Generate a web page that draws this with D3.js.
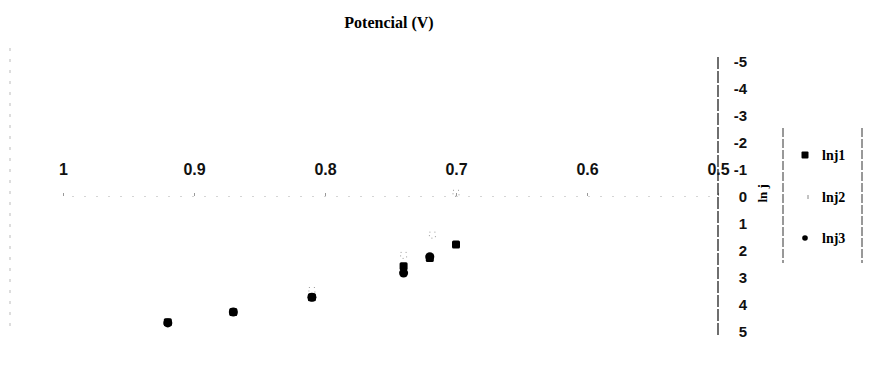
<!DOCTYPE html>
<html>
<head>
<meta charset="utf-8">
<script src="https://cdn.jsdelivr.net/npm/d3@7"></script>
<style>
  body { margin: 0; background: #fff; }
  svg { display: block; }
</style>
</head>
<body>
<div id="plot"></div>
<script>
// values
const potencial = [0.92, 0.87, 0.81, 0.74, 0.72, 0.70];
const lnj1 = [4.68, 4.3, 3.75, 2.6, 2.3, 1.8];
const potencial2 = [0.81, 0.74, 0.718, 0.70];
const lnj2 = [3.5, 2.2, 1.45, -0.1];
const potencial3 = [0.92, 0.87, 0.81, 0.74, 0.72];
const lnj3 = [4.7, 4.3, 3.75, 2.85, 2.25];
const xTicks = [1, 0.9, 0.8, 0.7, 0.6, 0.5];
const yTicks = [-5, -4, -3, -2, -1, 0, 1, 2, 3, 4, 5];
const seriesNames = ["lnj1", "lnj2", "lnj3"];

const width = 879, height = 367;

const svg = d3.select("#plot")
  .append("svg")
  .attr("width", width)
  .attr("height", height);

const x = d3.scaleLinear().domain([1, 0.5]).range([63, 718]);
const y = d3.scaleLinear().domain([-5, 5]).range([61, 331]);

// faint outer border on the left (scan remnant)
svg.append("line")
  .attr("x1", 10).attr("x2", 10)
  .attr("y1", 48).attr("y2", 332)
  .attr("stroke", "#bbb")
  .attr("stroke-dasharray", "3,8");

// title
svg.append("text")
  .attr("x", 389).attr("y", 28)
  .attr("text-anchor", "middle")
  .style("font-family", "Liberation Serif, serif")
  .style("font-weight", "bold")
  .style("font-size", "16px")
  .text("Potencial (V)");

// x axis at y = 0, labels above
const xAxis = svg.append("g")
  .attr("transform", `translate(0,${y(0)})`)
  .call(d3.axisTop(x).tickValues(xTicks).tickFormat(d => String(d)).tickSize(3).tickPadding(18));
xAxis.select(".domain").attr("stroke", "#d5d5d5").attr("stroke-dasharray", "2,10");
xAxis.selectAll(".tick line").attr("stroke", "#999");
xAxis.selectAll("text")
  .style("font-family", "Liberation Sans, Arial, sans-serif")
  .style("font-weight", "bold")
  .style("font-size", "16px")
  .attr("fill", "#111");

// y axis at x = 0.5
const yAxis = svg.append("g")
  .attr("transform", `translate(${x(0.5)},0)`)
  .call(d3.axisRight(y).tickValues(yTicks).tickFormat(d => String(d)).tickSize(0).tickPadding(29));
yAxis.select(".domain")
  .attr("d", `M0,${y(-5) - 4}V${y(5) + 4}`)
  .attr("stroke", "#222")
  .attr("stroke-width", 1.3)
  .attr("stroke-dasharray", "12,2");
yAxis.selectAll("text")
  .attr("text-anchor", "end")
  .attr("dy", "0.36em")
  .style("font-family", "Liberation Sans, Arial, sans-serif")
  .style("font-weight", "bold")
  .style("font-size", "15px")
  .attr("fill", "#111");

// y axis title
svg.append("text")
  .attr("transform", `translate(767,${y(-0.1)}) rotate(-90)`)
  .attr("text-anchor", "middle")
  .style("font-family", "Liberation Serif, serif")
  .style("font-weight", "bold")
  .style("font-size", "13px")
  .text("ln j");

const plot = svg.append("g");

// lnj2: hollow markers, very faint in the scan
plot.selectAll(".p2")
  .data(potencial2.map((p, i) => [p, lnj2[i]]))
  .enter().append("rect")
  .attr("class", "p2")
  .attr("x", d => x(d[0]) - 3)
  .attr("y", d => y(d[1]) - 3)
  .attr("width", 6).attr("height", 6)
  .attr("fill", "none")
  .attr("stroke", "#999")
  .attr("stroke-dasharray", "1,4");

// lnj1: filled squares
plot.selectAll(".p1")
  .data(potencial.map((p, i) => [p, lnj1[i]]))
  .enter().append("rect")
  .attr("class", "p1")
  .attr("x", d => x(d[0]) - 4)
  .attr("y", d => y(d[1]) - 4)
  .attr("width", 8).attr("height", 8)
  .attr("rx", 1.5)
  .attr("fill", "#000");

// lnj3: filled circles
plot.selectAll(".p3")
  .data(potencial3.map((p, i) => [p, lnj3[i]]))
  .enter().append("circle")
  .attr("class", "p3")
  .attr("cx", d => x(d[0]))
  .attr("cy", d => y(d[1]))
  .attr("r", 4.5)
  .attr("fill", "#000");

// legend
const legend = svg.append("g");
[783, 862].forEach(lx => {
  legend.append("line")
    .attr("x1", lx).attr("x2", lx)
    .attr("y1", 128).attr("y2", 263)
    .attr("stroke", "#333")
    .attr("stroke-dasharray", "9,2");
});
const legendY = [155, 197, 238];
seriesNames.forEach((name, i) => {
  const ly = legendY[i];
  if (i === 0) {
    legend.append("rect").attr("x", 801.5).attr("y", ly - 3.5).attr("width", 7).attr("height", 7).attr("rx", 1).attr("fill", "#000");
  } else if (i === 1) {
    legend.append("rect").attr("x", 802).attr("y", ly - 2).attr("width", 6).attr("height", 4)
      .attr("fill", "none").attr("stroke", "#888").attr("stroke-dasharray", "0,6,4,6");
  } else {
    legend.append("circle").attr("cx", 805).attr("cy", ly).attr("r", 2.8).attr("fill", "#000");
  }
  legend.append("text")
    .attr("x", 822).attr("y", ly + 5)
    .style("font-family", "Liberation Serif, serif")
    .style("font-weight", "bold")
    .style("font-size", "14px")
    .text(name);
});
</script>
</body>
</html>
